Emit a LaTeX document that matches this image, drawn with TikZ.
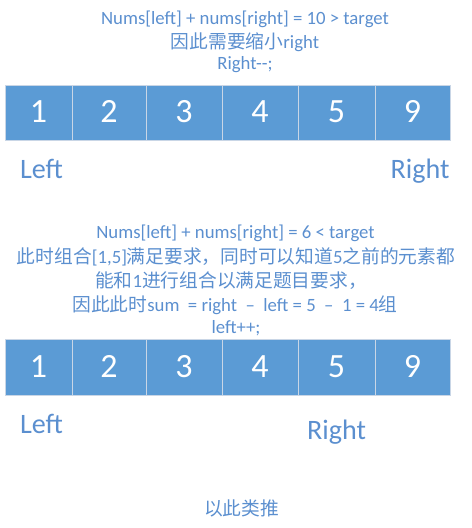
\documentclass[tikz,border=0pt]{standalone}
\usepackage{fontspec}
\setmainfont{Carlito}
\newfontfamily\cjk{Noto Sans CJK SC}
\usepackage{tikz}

\definecolor{cellblue}{HTML}{5B9BD5}
\definecolor{textblue}{HTML}{5B8FCF}
\definecolor{cellline}{HTML}{C9D6E6}

\tikzset{
  note/.style={anchor=base, text=textblue, inner sep=0pt, font=\fontsize{16}{19}\selectfont},
  digit/.style={anchor=base, text=white, inner sep=0pt, font=\fontsize{29}{32}\selectfont},
  pointer/.style={anchor=base, text=textblue, inner sep=0pt, font=\fontsize{24}{28}\selectfont},
  cell/.style={fill=cellblue, draw=cellline, line width=0.8pt}
}

\begin{document}
\begin{tikzpicture}[x=0.03cm, y=-0.03cm]

\useasboundingbox (0,0) rectangle (471,528);

% Top and bottom of the two arrays
\def\TopA{85}
\def\BotA{140}
\def\TopB{339}
\def\BotB{395}

% First step: right moves left
\node[note] (t1) at (245,24) {Nums[left] + nums[right] = 10 > target};
\node[note] (t2) at (245,48) {{\cjk 因此需要缩小}right};
\node[note] (t3) at (245,69) {Right-{}-;};

\foreach \xa/\xb/\v [count=\i] in {5/72/1,72/146/2,146/222/3,222/298/4,298/375/5,375/450/9}
  \draw[cell] (\xa,\TopA) rectangle (\xb,\BotA);
\foreach \xa/\xb/\v [count=\i] in {5/72/1,72/146/2,146/222/3,222/298/4,298/375/5,375/450/9}
  \node[digit] (a\i) at ({(\xa+\xb)/2},122) {\v};

\node[pointer] (leftA) at (41.5,178) {Left};
\node[pointer] (rightA) at (420,178) {Right};

% Second step: left moves right
\node[note] (s1) at (235.5,238) {Nums[left] + nums[right] = 6 < target};
\node[note] (s2) at (236,263) {{\cjk 此时组合}[1,5]{\cjk 满足要求，同时可以知道}5{\cjk 之前的元素都}};
\node[note] (s3) at (231,287) {{\cjk 能和}1{\cjk 进行组合以满足题目要求，}};
\node[note] (s4) at (235,311) {{\cjk 因此此时}sum\ \ = right \ –\ \ left = 5 \ –\ \ 1 = 4{\cjk 组}};
\node[note] (s5) at (236,333) {left++;};

\foreach \xa/\xb/\v [count=\i] in {5/72/1,72/146/2,146/222/3,222/298/4,298/375/5,375/450/9}
  \draw[cell] (\xa,\TopB) rectangle (\xb,\BotB);
\foreach \xa/\xb/\v [count=\i] in {5/72/1,72/146/2,146/222/3,222/298/4,298/375/5,375/450/9}
  \node[digit] (b\i) at ({(\xa+\xb)/2},377) {\v};

\node[pointer] (leftB) at (41.5,433) {Left};
\node[pointer] (rightB) at (336.5,439) {Right};

% And so on
\node[note] (etc) at (241.5,515) {\cjk 以此类推};

\end{tikzpicture}
\end{document}
